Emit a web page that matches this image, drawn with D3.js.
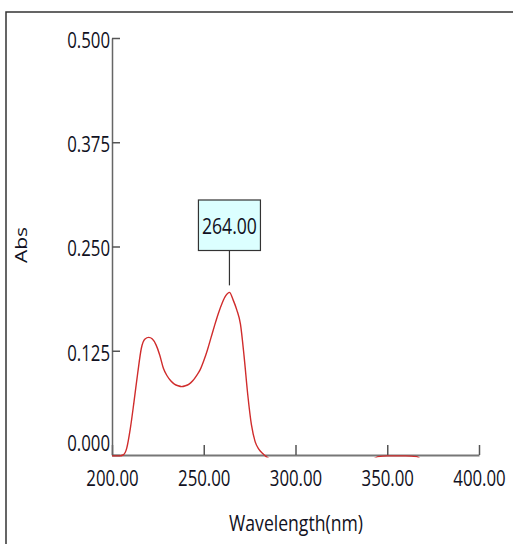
<!DOCTYPE html>
<html>
<head>
<meta charset="utf-8">
<script src="https://cdn.jsdelivr.net/npm/d3@7"></script>
<style>
  body { margin: 0; background: white; }
  text { font-family: "Open Sans", "Noto Sans", sans-serif; fill: #111122; }
</style>
</head>
<body>
<script>
// spectrum
let wavelength = [200, 204, 206, 208, 210, 212, 214, 216, 218, 220, 222, 224, 226, 228, 230, 232, 234, 236, 238, 240,
    242, 244, 246, 248, 250, 252, 254, 256, 258, 260, 262, 264, 266, 268, 270, 272, 274, 276, 278, 280,
    282, 284, 286, 290, 300, 320, 340, 345, 350, 355, 360, 366, 370, 380, 400]
let absorbance = [-0.001, -0.001, 0.000, 0.008, 0.032, 0.064, 0.098, 0.128, 0.139, 0.141, 0.139, 0.132, 0.120, 0.104, 0.095, 0.089, 0.085, 0.083, 0.082, 0.083,
    0.085, 0.089, 0.095, 0.102, 0.113, 0.126, 0.141, 0.156, 0.170, 0.182, 0.191, 0.195, 0.186, 0.174, 0.157, 0.118, 0.072, 0.036, 0.016, 0.007,
    0.002, -0.002, -0.005, -0.010, -0.012, -0.012, -0.008, -0.002, -0.001, -0.001, -0.001, -0.002, -0.008, -0.012, -0.012]
let xTicks = [200, 250, 300, 350, 400]
let yTicks = [0, 0.125, 0.25, 0.375, 0.5]
let peakAt = 264

function main(){
    let width = 513
    let height = 544
    let sx = 0.8   // the picture is squeezed sideways

    let svg = d3.select('body')
        .append('svg')
        .attr('width', width)
        .attr('height', height)

    // frame
    svg.append('path')
        .attr('d', `M6,${height} L6,12 L${width},12`)
        .attr('fill', 'none')
        .attr('stroke', '#333')
        .attr('stroke-width', 1.5)

    let xScale = d3.scaleLinear()
        .domain([200, 400])
        .range([112, 479])
    let yScale = d3.scaleLinear()
        .domain([0, 0.5])
        .range([455, 38])

    let xAxis = svg.append('g')
        .attr('transform', `translate(0,${yScale(0)})`)
        .call(d3.axisBottom(xScale)
            .tickValues(xTicks)
            .tickSizeInner(-10)
            .tickSizeOuter(0)
            .tickFormat(d3.format('.2f')))
    xAxis.select('.domain').attr('stroke', '#777').attr('stroke-width', 2)
    xAxis.selectAll('line').attr('stroke', '#555').attr('stroke-width', 1.5)
    xAxis.selectAll('text')
        .attr('font-size', 21)
        .attr('font-family', null)
        .attr('fill', null)
        .attr('y', 31)
        .attr('dy', 0)
        .attr('transform', `scale(${sx},1)`)

    let yAxis = svg.append('g')
        .attr('transform', `translate(${xScale(200)},0)`)
        .call(d3.axisLeft(yScale)
            .tickValues(yTicks)
            .tickSizeInner(-8)
            .tickSizeOuter(0)
            .tickFormat(d3.format('.3f')))
    yAxis.select('.domain').attr('stroke', '#666').attr('stroke-width', 1.5)
    yAxis.selectAll('line').attr('stroke', '#555').attr('stroke-width', 1.5)
    yAxis.selectAll('text')
        .attr('font-size', 21)
        .attr('font-family', null)
        .attr('fill', null)
        .attr('x', -2 / sx)
        .attr('dy', d => d == 0 ? '-0.22em' : '0.45em')
        .attr('transform', `scale(${sx},1)`)

    // curve
    svg.append('clipPath')
        .attr('id', 'plot')
        .append('rect')
        .attr('x', xScale(200))
        .attr('y', 0)
        .attr('width', xScale(400) - xScale(200))
        .attr('height', yScale(0) + 2.5)

    let line = d3.line()
        .x((d, i) => xScale(wavelength[i]))
        .y(d => yScale(d))
        .curve(d3.curveMonotoneX)

    svg.append('path')
        .datum(absorbance)
        .attr('clip-path', 'url(#plot)')
        .attr('d', line)
        .attr('fill', 'none')
        .attr('stroke', '#d02c2c')
        .attr('stroke-width', 1.4)

    // peak label
    let px = xScale(peakAt)
    let pv = absorbance[wavelength.indexOf(peakAt)]
    svg.append('line')
        .attr('x1', px)
        .attr('x2', px)
        .attr('y1', 250.5)
        .attr('y2', yScale(pv) - 7)
        .attr('stroke', '#333')
        .attr('stroke-width', 1.2)
    svg.append('rect')
        .attr('x', px - 31)
        .attr('y', 200)
        .attr('width', 62)
        .attr('height', 50.5)
        .attr('fill', '#dcffff')
        .attr('stroke', '#333')
        .attr('stroke-width', 1.2)
    svg.append('text')
        .attr('transform', `translate(${px},234) scale(${sx},1)`)
        .attr('text-anchor', 'middle')
        .attr('font-size', 22)
        .text(peakAt.toFixed(2))

    // axis titles
    svg.append('text')
        .attr('transform', `translate(296,531) scale(${sx},1)`)
        .attr('text-anchor', 'middle')
        .attr('font-size', 22)
        .text('Wavelength(nm)')
    svg.append('text')
        .attr('transform', `translate(27,245) scale(${sx},1) rotate(-90)`)
        .attr('text-anchor', 'middle')
        .attr('font-size', 21)
        .text('Abs')
}

main()
</script>
</body>
</html>
